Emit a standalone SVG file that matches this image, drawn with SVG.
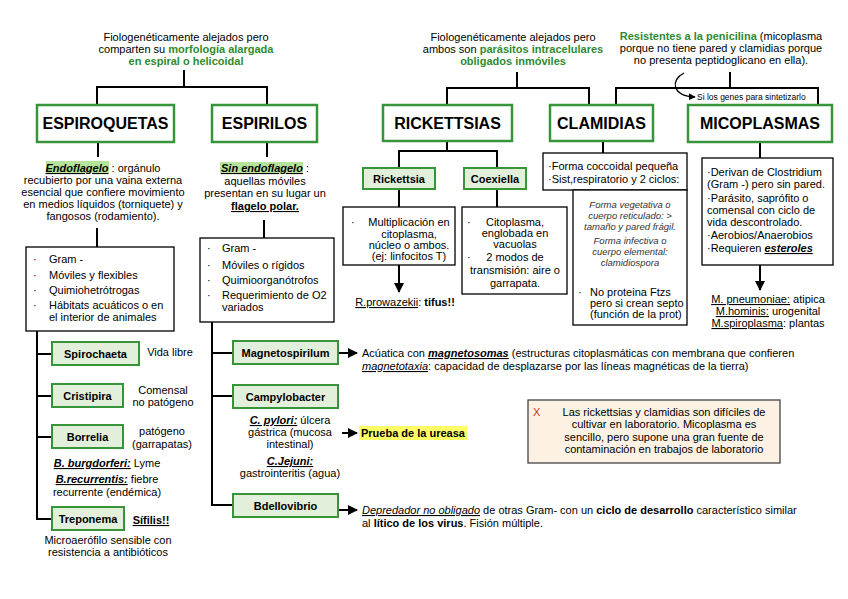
<svg xmlns="http://www.w3.org/2000/svg" width="848" height="599" viewBox="0 0 848 599">
<style>
text{font-family:"Liberation Sans",Arial,sans-serif;font-size:11px;fill:#000}
.c{text-anchor:middle}
.hd{font-size:16px;font-weight:bold;text-anchor:middle}
.nb{font-weight:bold;text-anchor:middle}
.g{fill:#2E8B2E;font-weight:bold}
.b{font-weight:bold}
.bi{font-weight:bold;font-style:italic}
.u{text-decoration:underline}
.i{font-style:italic}
.sm9{font-size:9.5px;font-style:italic;fill:#333}
.big{fill:#fff;stroke:#389438;stroke-width:2.5}
.sm{fill:#E2EFDA;stroke:#389438;stroke-width:2}
.bx{fill:#fff;stroke:#000;stroke-width:1.3}
.ln{stroke:#000;stroke-width:2;fill:none}
.ar{stroke:#000;stroke-width:2;fill:none;marker-end:url(#ah)}
</style>
<defs>
<marker id="ah" viewBox="0 0 10 10" refX="9" refY="5" markerWidth="10" markerHeight="10" markerUnits="userSpaceOnUse" orient="auto"><path d="M0,0 L10,5 L0,10 z" fill="#000"/></marker>
<marker id="ahs" viewBox="0 0 10 10" refX="9" refY="5" markerWidth="7" markerHeight="7" markerUnits="userSpaceOnUse" orient="auto"><path d="M0,0 L10,5 L0,10 z" fill="#000"/></marker>
</defs>
<rect width="848" height="599" fill="#fff"/>

<g id="connectors">
<path class="ln" d="M184,70 V87 M97,105 V87 H267 V105"/>
<path class="ln" d="M98,142 V157 M97,228 V247"/>
<path class="ln" d="M267,142 V157 M264,220 V238"/>
<path class="ln" d="M37,331 V519 H52 M37,354 H52 M37,396 H52 M37,437 H52"/>
<path class="ln" d="M212,322 V505 H233 M212,353 H233 M212,396 H233"/>
<path class="ar" d="M338,353 H357"/>
<path class="ar" d="M342,433 H357"/>
<path class="ar" d="M338,510 H357"/>
<path class="ln" d="M517,72 V88 M447,105 V88 H589 V105"/>
<path class="ln" d="M730,72 V88 M616,105 V88 H818 V105"/>
<path class="ln" d="M447,141 V151 M399,168 V151 H497 V168"/>
<path class="ln" d="M399,189 V207 M497,189 V207"/>
<path class="ar" d="M399,265 V292"/>
<path class="ln" d="M603,141 V153"/>
<path class="ln" d="M760,142 V158"/>
<path class="ar" d="M760,265 V290"/>
<path d="M684,73 C670,80 672,96 695,97" fill="none" stroke="#000" stroke-width="1.3" marker-end="url(#ahs)"/>
</g>

<g id="txt-top-left">
<text class="c" x="186" y="41">Fiologenéticamente alejados pero</text>
<text class="c" x="186" y="53">comparten su <tspan class="g">morfología alargada</tspan></text>
<text class="c g" x="186" y="65">en espiral o helicoidal</text>
</g>
<g id="txt-top-mid">
<text class="c" x="513" y="41">Fiologenéticamente alejados pero</text>
<text class="c" x="513" y="53">ambos son <tspan class="g">parásitos intracelulares</tspan></text>
<text class="c g" x="513" y="65">obligados inmóviles</text>
</g>
<g id="txt-top-right">
<text class="c" x="721" y="40"><tspan class="g">Resistentes a la penicilina</tspan> (micoplasma</text>
<text class="c" x="721" y="52">porque no tiene pared y clamidias porque</text>
<text class="c" x="721" y="64">no presenta peptidoglicano en ella).</text>
<text x="697" y="100" style="font-size:8.5px">Si los genes para sintetizarlo</text>
</g>

<g id="espiroquetas"><rect class="big" x="37" y="105" width="137" height="37"/><text class="hd" x="105.5" y="129">ESPIROQUETAS</text></g>
<g id="espirilos"><rect class="big" x="212" y="105" width="105" height="37"/><text class="hd" x="264.5" y="129">ESPIRILOS</text></g>
<g id="rickettsias"><rect class="big" x="383" y="105" width="129" height="36"/><text class="hd" x="447.5" y="129">RICKETTSIAS</text></g>
<g id="clamidias"><rect class="big" x="550" y="105" width="103" height="36"/><text class="hd" x="601.5" y="129">CLAMIDIAS</text></g>
<g id="micoplasmas"><rect class="big" x="688" y="105" width="144" height="37"/><text class="hd" x="760" y="129">MICOPLASMAS</text></g>

<g id="endoflagelo">
<rect x="46" y="161" width="63" height="12" fill="#B5E39B"/>
<text class="c" x="103" y="172"><tspan class="bi u">Endoflagelo</tspan> : orgánulo</text>
<text class="c" x="103" y="184">recubierto por una vaina externa</text>
<text class="c" x="103" y="196">esencial que confiere movimiento</text>
<text class="c" x="103" y="208">en medios líquidos (torniquete) y</text>
<text class="c" x="103" y="220">fangosos (rodamiento).</text>
</g>
<g id="espiroq-list">
<rect class="bx" x="26" y="247" width="148" height="84"/>
<text x="33" y="263">·</text><text x="49" y="263">Gram -</text>
<text x="33" y="279">·</text><text x="49" y="279">Móviles y flexibles</text>
<text x="33" y="294">·</text><text x="49" y="294">Quimiohetrótrogas</text>
<text x="33" y="309">·</text><text x="49" y="309">Hábitats acuáticos o en</text>
<text x="49" y="321">el interior de animales</text>
</g>

<g id="sinendo">
<rect x="220" y="162" width="83" height="12" fill="#B5E39B"/>
<text class="c" x="265" y="172"><tspan class="bi u">Sin endoflagelo</tspan> :</text>
<text class="c" x="265" y="185">aquellas móviles</text>
<text class="c" x="265" y="197">presentan en su lugar un</text>
<text class="c b u" x="265" y="210">flagelo polar.</text>
</g>
<g id="espiril-list">
<rect class="bx" x="200" y="238" width="134" height="84"/>
<text x="207" y="252">·</text><text x="222" y="252">Gram -</text>
<text x="207" y="269">·</text><text x="222" y="269">Móviles o rígidos</text>
<text x="207" y="284">·</text><text x="222" y="284">Quimioorganótrofos</text>
<text x="207" y="299">·</text><text x="222" y="299">Requerimiento de O2</text>
<text x="222" y="311">variados</text>
</g>

<g id="spirochaeta"><rect class="sm" x="52" y="342" width="87" height="23"/><text class="nb" x="95.5" y="358">Spirochaeta</text></g>
<text class="c" x="170" y="356">Vida libre</text>
<g id="cristipira"><rect class="sm" x="52" y="384" width="71" height="23"/><text class="nb" x="87.5" y="400">Cristipira</text></g>
<text class="c" x="163" y="394">Comensal</text>
<text class="c" x="163" y="406">no patógeno</text>
<g id="borrelia"><rect class="sm" x="52" y="425" width="71" height="23"/><text class="nb" x="87.5" y="441">Borrelia</text></g>
<text class="c" x="162" y="435">patógeno</text>
<text class="c" x="162" y="448">(garrapatas)</text>
<text class="c" x="107" y="467"><tspan class="bi u">B. burgdorferi:</tspan> Lyme</text>
<text class="c" x="107" y="483"><tspan class="bi u">B.recurrentis:</tspan> fiebre</text>
<text class="c" x="107" y="496">recurrente (endémica)</text>
<g id="treponema"><rect class="sm" x="52" y="507" width="72" height="23"/><text class="nb" x="88" y="523">Treponema</text></g>
<text class="c b u" x="151" y="524">Sífilis!!</text>
<text class="c" x="108" y="544">Microaerófilo sensible con</text>
<text class="c" x="108" y="556">resistencia a antibióticos</text>

<g id="magnetospirilum"><rect class="sm" x="233" y="341" width="105" height="23"/><text class="nb" x="285.5" y="357">Magnetospirilum</text></g>
<text x="362" y="357">Acúatica con <tspan class="bi u">magnetosomas</tspan> (estructuras citoplasmáticas con membrana que confieren</text>
<text x="362" y="370"><tspan class="i u">magnetotaxia</tspan>: capacidad de desplazarse por las líneas magnéticas de la tierra)</text>
<g id="campylobacter"><rect class="sm" x="233" y="385" width="105" height="23"/><text class="nb" x="285.5" y="401">Campylobacter</text></g>
<text class="c" x="290" y="424"><tspan class="bi u">C. pylori:</tspan> úlcera</text>
<text class="c" x="290" y="436">gástrica (mucosa</text>
<text class="c" x="290" y="448">intestinal)</text>
<text class="c bi u" x="290" y="465">C.Jejuni:</text>
<text class="c" x="290" y="477">gastrointeritis (agua)</text>
<rect x="359" y="426" width="108" height="14" fill="#FFFF66"/>
<text class="b" x="361" y="437">Prueba de la ureasa</text>
<g id="bdellovibrio"><rect class="sm" x="233" y="494" width="105" height="23"/><text class="nb" x="285.5" y="510">Bdellovibrio</text></g>
<text x="362" y="514"><tspan class="i u">Depredador no obligado</tspan> de otras Gram- con un <tspan class="b">ciclo de desarrollo</tspan> característico similar</text>
<text x="362" y="527">al <tspan class="b">lítico de los virus</tspan>. Fisión múltiple.</text>

<g id="nota">
<rect x="528" y="400" width="252" height="63" fill="#FCF1E3" stroke="#444" stroke-width="1.3"/>
<text x="533" y="416" style="fill:#D03020">X</text>
<text class="c" x="664" y="416">Las rickettsias y clamidias son difíciles de</text>
<text class="c" x="664" y="428">cultivar en laboratorio. Micoplasma es</text>
<text class="c" x="664" y="441">sencillo, pero supone una gran fuente de</text>
<text class="c" x="664" y="453">contaminación en trabajos de laboratorio</text>
</g>

<g id="rickettsia"><rect class="sm" x="363" y="168" width="72" height="21"/><text class="nb" x="399" y="183">Rickettsia</text></g>
<g id="coexiella"><rect class="sm" x="464" y="168" width="62" height="21"/><text class="nb" x="495" y="183">Coexiella</text></g>
<g id="rick-list">
<rect class="bx" x="343" y="207" width="112" height="58"/>
<text x="351" y="226">·</text>
<text class="c" x="409" y="226">Multiplicación en</text>
<text class="c" x="409" y="238">citoplasma,</text>
<text class="c" x="409" y="249">núcleo o ambos.</text>
<text class="c" x="409" y="260">(ej: linfocitos T)</text>
</g>
<text class="c" x="405" y="306"><tspan class="u">R.prowazekii</tspan>: <tspan class="b">tifus!!</tspan></text>
<g id="coex-list">
<rect class="bx" x="462" y="207" width="105" height="87"/>
<text x="467" y="226">·</text>
<text class="c" x="515" y="226">Citoplasma,</text>
<text class="c" x="515" y="237">englobada en</text>
<text class="c" x="515" y="248">vacuolas</text>
<text x="467" y="261">·</text>
<text class="c" x="515" y="261">2 modos de</text>
<text class="c" x="515" y="274">transmisión: aire o</text>
<text class="c" x="515" y="287">garrapata.</text>
</g>

<g id="clam-list">
<rect class="bx" x="543" y="153" width="144" height="37"/>
<text x="548" y="170">·Forma coccoidal pequeña</text>
<text x="548" y="183">·Sist,respiratorio y 2 ciclos:</text>
<rect class="bx" x="573" y="190" width="114" height="135"/>
<text class="c sm9" x="630" y="208">Forma vegetativa o</text>
<text class="c sm9" x="630" y="219">cuerpo reticulado: &gt;</text>
<text class="c sm9" x="630" y="230">tamaño y pared frágil.</text>
<text class="c sm9" x="630" y="244">Forma infectiva o</text>
<text class="c sm9" x="630" y="255">cuerpo elemental:</text>
<text class="c sm9" x="630" y="266">clamidiospora</text>
<text x="578" y="296">·</text>
<text x="590" y="296">No proteina Ftzs</text>
<text x="590" y="307">pero si crean septo</text>
<text x="590" y="318">(función de la prot)</text>
</g>

<g id="mico-list">
<rect class="bx" x="702" y="158" width="131" height="107"/>
<text x="707" y="176">·Derivan de Clostridium</text>
<text x="707" y="188">(Gram -) pero sin pared.</text>
<text x="707" y="202">·Parásito, saprófito o</text>
<text x="707" y="214">comensal con ciclo de</text>
<text x="707" y="226">vida descontrolado.</text>
<text x="707" y="239">·Aerobios/Anaerobios</text>
<text x="707" y="252">·Requieren <tspan class="bi u">esteroles</tspan></text>
</g>
<text class="c" x="768" y="303"><tspan class="u">M. pneumoniae:</tspan> atipica</text>
<text class="c" x="768" y="315"><tspan class="u">M.hominis:</tspan> urogenital</text>
<text class="c" x="768" y="327"><tspan class="u">M.spiroplasma</tspan>: plantas</text>
</svg>
